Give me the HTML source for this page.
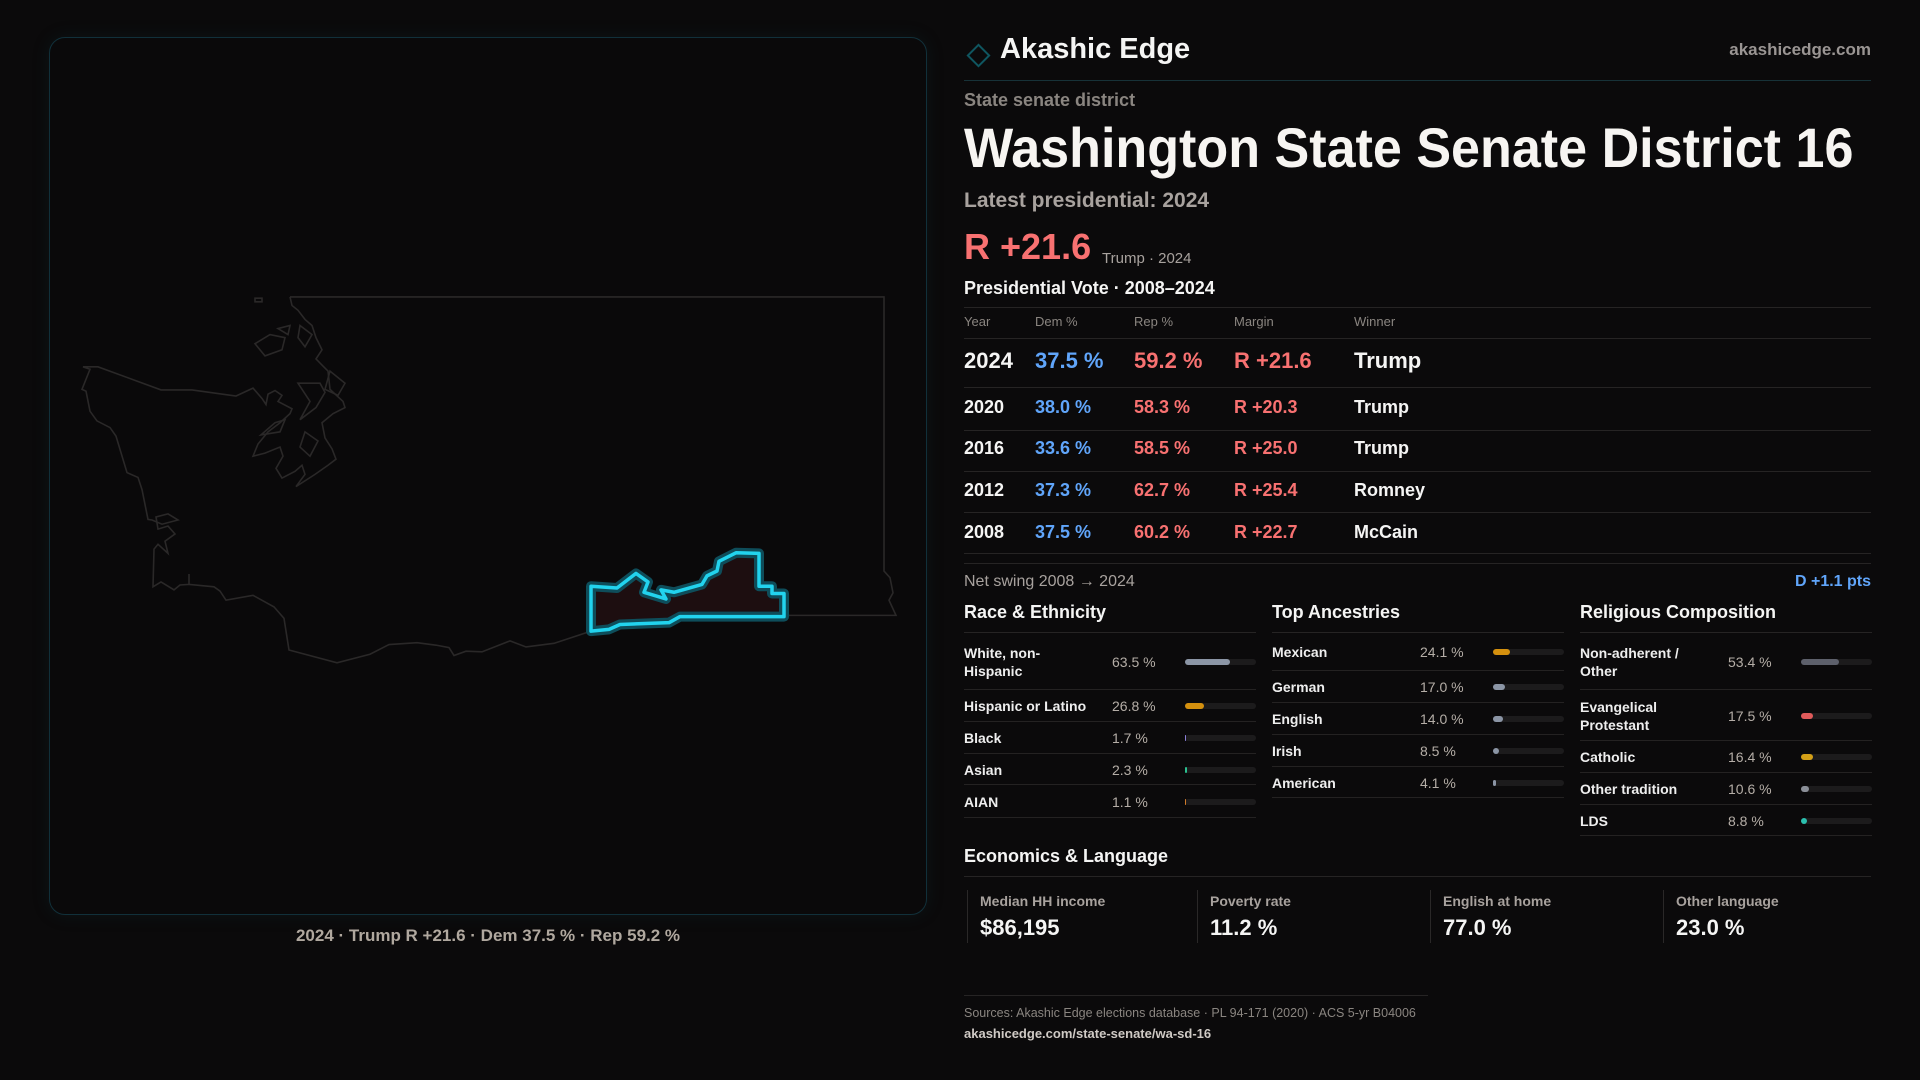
<!DOCTYPE html>
<html><head><meta charset="utf-8"><style>
*{margin:0;padding:0;box-sizing:border-box}
body{width:1920px;height:1080px;background:#0b0a0b;font-family:"Liberation Sans",sans-serif;color:#f5f5f4;position:relative;overflow:hidden}
.a{position:absolute;white-space:nowrap}
.hl{position:absolute;height:1px;background:#262424}
.row{position:absolute;left:0;right:0;border-bottom:1px solid #242222}
.lab{position:absolute;font-size:14px;font-weight:bold;color:#eee;line-height:18px}
.val{position:absolute;font-size:14px;color:#b5aea7}
.trk{position:absolute;width:71px;height:6px;border-radius:3px;background:#1c1b1c}
.fil{height:6px;border-radius:3px}
path{vector-effect:non-scaling-stroke}
</style></head><body>
<div class="a" style="left:49px;top:37px;width:878px;height:878px;border:1px solid #11303a;border-radius:16px;background:#0a090a;box-shadow:0 0 18px rgba(20,80,90,0.15)"></div>
<svg class="a" style="left:0;top:0" width="960" height="1080">
<g transform="translate(0,286) scale(1,0.6077) translate(0,-280)">
<g fill="none" stroke="#2a2828" stroke-width="1.6">
<path d="M290,298 L884,298 L884,749 L890,760 L893,785 L889,797 L896,822 L787,822 M591,848 L554,868 L526,874 L510,864 L482,882 L466,881 L454,888 L449,875 L436,871 L417,867 L389,870 L370,886 L337,900 L289,879 L284,827 L274,808 L253,789 L226,797 L220,782 L214,775 L189,771 L189,754 L189,771 L180,772 L174,780 L161,767 L153,775 L154,713 L158,705 L168,720 L165,700 L175,688 L168,675 L158,680 L156,660 L168,655 L178,665 L162,672 L152,665 L148,664 L142,615 L138,595 L127,587 L116,527 L110,513 L97,502 L90,486 L86,453 L82,450 L90,417 L83,413 L98,413 L161,451 L192,451 L236,461 L253,448 L262,465 L266,475 L268,458 L275,452 L282,460 L278,470 L292,482 L290,490 L280,505 L268,520 L258,540 L253,560 L265,555 L280,545 L283,560 L276,580 L282,596 L295,585 L302,575 L305,590 L296,610 L315,590 L328,575 L336,565 L332,548 L325,530 L322,505 L333,490 L345,480 L343,470 L330,450 L328,420 L322,410 L316,400 L322,385 L316,365 L312,345 L305,335 L298,320 L292,312 L290,298"/>
<path d="M298,440 L310,470 L300,500 L316,480 L325,455 L320,440 Z M330,420 L345,440 L338,460 L325,450 Z M255,375 L270,360 L285,365 L282,385 L265,395 Z M278,350 L290,345 L288,360 Z M300,345 L312,360 L305,380 L298,365 Z M261,525 L275,505 L285,500 L280,520 Z M305,520 L318,535 L310,560 L300,545 Z M255,300 L262,300 L262,306 L255,306 Z"/>
</g>
<g>
<path d="M591,774 L617,777 L636,753 L648,767 L644,784 L666,795 L661,780 L674,784 L702,771 L707,757 L717,749 L719,733 L736,719 L759,720 L759,774 L772,774 L772,786 L784,786 L784,824 L680,824 L669,834 L620,837 L609,845 L591,848 Z" fill="#1d0e10" stroke="#0e4d5a" stroke-width="10" stroke-linejoin="round"/>
<path d="M591,774 L617,777 L636,753 L648,767 L644,784 L666,795 L661,780 L674,784 L702,771 L707,757 L717,749 L719,733 L736,719 L759,720 L759,774 L772,774 L772,786 L784,786 L784,824 L680,824 L669,834 L620,837 L609,845 L591,848 Z" fill="none" stroke="#22d3ee" stroke-width="3.5" stroke-linejoin="round"/>
</g>
</g>
</svg>
<div class="a" style="left:0;width:976px;text-align:center;top:926px;font-size:17px;font-weight:bold;color:#b0a89f">2024 · Trump R +21.6 · Dem 37.5 % · Rep 59.2 %</div>

<svg class="a" style="left:963px;top:40px" width="30" height="30"><rect x="8" y="8" width="15" height="15" transform="rotate(45 15.5 15.5)" fill="none" stroke="#0f5660" stroke-width="2"/></svg>
<div class="a" style="left:1000px;top:33px;font-size:29px;font-weight:bold;color:#f5f5f4">Akashic Edge</div>
<div class="a" style="right:49px;top:40px;font-size:17px;font-weight:bold;color:#9a9593">akashicedge.com</div>
<div class="hl" style="left:964px;width:907px;top:80px;background:#173238"></div>
<div class="a" style="left:964px;top:90px;font-size:18px;font-weight:bold;color:#8a8580">State senate district</div>
<div class="a" style="left:964px;top:115px;font-size:56px;font-weight:bold;color:#f7f5f2;transform-origin:0 0;transform:scaleX(0.93)">Washington State Senate District 16</div>
<div class="a" style="left:964px;top:189px;font-size:21px;font-weight:bold;color:#a8a29e">Latest presidential: 2024</div>
<div class="a" style="left:964px;top:226px;font-size:36px;font-weight:bold;color:#f87171">R +21.6</div>
<div class="a" style="left:1102px;top:250px;font-size:15px;color:#a8a29e">Trump · 2024</div>
<div class="a" style="left:964px;top:278px;font-size:18px;font-weight:bold;color:#f5f5f4">Presidential Vote · 2008–2024</div>
<div class="hl" style="left:964px;width:907px;top:307px"></div>
<div id="vt"></div>
<div class="a" style="left:964px;top:573px;font-size:16px;color:#a8a29e">Net swing 2008 → 2024</div>
<div class="a" style="right:49px;top:573px;font-size:16px;font-weight:bold;color:#60a5fa">D +1.1 pts</div>

<div id="c1" class="a" style="left:964px;top:602px;width:292px;height:230px"></div>
<div id="c2" class="a" style="left:1272px;top:602px;width:292px;height:230px"></div>
<div id="c3" class="a" style="left:1580px;top:602px;width:292px;height:240px"></div>

<div class="a" style="left:964px;top:846px;font-size:18px;font-weight:bold">Economics &amp; Language</div>
<div class="hl" style="left:964px;width:907px;top:876px"></div>
<div id="econ"></div>
<div class="hl" style="left:964px;width:464px;top:995px"></div>
<div class="a" style="left:964px;top:1006px;font-size:12.5px;color:#8a8580">Sources: Akashic Edge elections database · PL 94-171 (2020) · ACS 5-yr B04006</div>
<div class="a" style="left:964px;top:1026px;font-size:13px;font-weight:bold;color:#cfcac5">akashicedge.com/state-senate/wa-sd-16</div>

<script>
const years=["2024","2020","2016","2012","2008"];
const demPct=[37.5,38.0,33.6,37.3,37.5];
const repPct=[59.2,58.3,58.5,62.7,60.2];
const margins=[21.6,20.3,25.0,25.4,22.7];
const winners=["Trump","Trump","Trump","Romney","McCain"];
const raceLabels=["White, non-Hispanic","Hispanic or Latino","Black","Asian","AIAN"];
const raceValues=[63.5,26.8,1.7,2.3,1.1];
const raceColors=["#8b95a5","#d4900e","#8b7fd8","#2bbf8f","#d07a2a"];
const ancLabels=["Mexican","German","English","Irish","American"];
const ancValues=[24.1,17.0,14.0,8.5,4.1];
const ancColors=["#d4900e","#8b95a5","#8b95a5","#8b95a5","#8b95a5"];
const relLabels=["Non-adherent / Other","Evangelical Protestant","Catholic","Other tradition","LDS"];
const relValues=[53.4,17.5,16.4,10.6,8.8];
const relColors=["#5d606b","#e05a5a","#d4a017","#8b8f98","#2bbfae"];
const econLabels=["Median HH income","Poverty rate","English at home","Other language"];
const econValues=["$86,195","11.2 %","77.0 %","23.0 %"];

function mk(parent,cls,style,txt){const e=document.createElement('div');if(cls)e.className=cls;e.style.cssText=style;if(txt!==undefined)e.textContent=txt;parent.appendChild(e);return e;}

const vt=document.getElementById('vt');
const cols=[964,1035,1134,1234,1354];
["Year","Dem %","Rep %","Margin","Winner"].forEach((h,i)=>{const e=mk(vt,'a',`left:${cols[i]}px;top:314px;font-size:13px;color:#8a8580`,h);});
mk(vt,'hl','left:964px;width:907px;top:338px');
const rowCenters=[361,408,449,491,533];
const rowLines=[387,430,471,512,553];
years.forEach((y,i)=>{
 const big=i===0;const fs=big?22:18;const t=rowCenters[i]-fs*0.6;
 const vals=[y,demPct[i].toFixed(1)+" %",repPct[i].toFixed(1)+" %","R +"+margins[i].toFixed(1),winners[i]];
 const colors=["#f5f5f4","#60a5fa","#f87171","#f87171","#f5f5f4"];
 vals.forEach((v,j)=>{const e=mk(vt,'a',`left:${cols[j]}px;top:${t}px;font-size:${fs}px;font-weight:bold;color:${colors[j]}`,v);
  
  });
 mk(vt,'hl',`left:964px;width:907px;top:${rowLines[i]}px`);
});
mk(vt,'hl','left:964px;width:907px;top:563px');

function panel(id,title,labels,values,colors,heights){
 const p=document.getElementById(id);
 const h=mk(p,'a','left:0;top:0;font-size:18px;font-weight:bold;color:#f5f5f4',title);
 
 
 mk(p,'hl','left:0;width:292px;top:30px');
 let y=31;
 labels.forEach((lab,i)=>{
  const r=mk(p,'row',`top:${y}px;height:${heights[i]}px`);
  
  
  const cy=heights[i]/2;
  const two=lab.length>18&&heights[i]>40;
  mk(r,'lab',`left:0;top:${cy-(two?18:9)}px;width:130px;white-space:normal`,lab);
  mk(r,'val',`left:148px;top:${cy-8}px`,values[i].toFixed(1)+" %");
  const t=mk(r,'trk',`left:221px;top:${cy-3}px`);
  const f=mk(t,'fil',`width:${Math.max(values[i],1.4)}%;background:${colors[i]}`);
  
  
  y+=heights[i];
 });
}
panel('c1','Race & Ethnicity',raceLabels,raceValues,raceColors,[57,32,32,31,33]);
panel('c2','Top Ancestries',ancLabels,ancValues,ancColors,[38,32,32,32,31]);
panel('c3','Religious Composition',relLabels,relValues,relColors,[57,51,32,32,31]);

const ec=document.getElementById('econ');
const ex=[967,1197,1430,1663];
econLabels.forEach((l,i)=>{
 const c=mk(ec,'a',`left:${ex[i]}px;top:890px;height:53px;width:200px;border-left:1px solid #2a2828;padding-left:12px`);
 
 
 mk(c,'a','left:12px;top:3px;font-size:14px;font-weight:bold;color:#a8a29e',l);
 mk(c,'a','left:12px;top:25px;font-size:22px;font-weight:bold;color:#f5f5f4',econValues[i]);
});
</script>
</body></html>
